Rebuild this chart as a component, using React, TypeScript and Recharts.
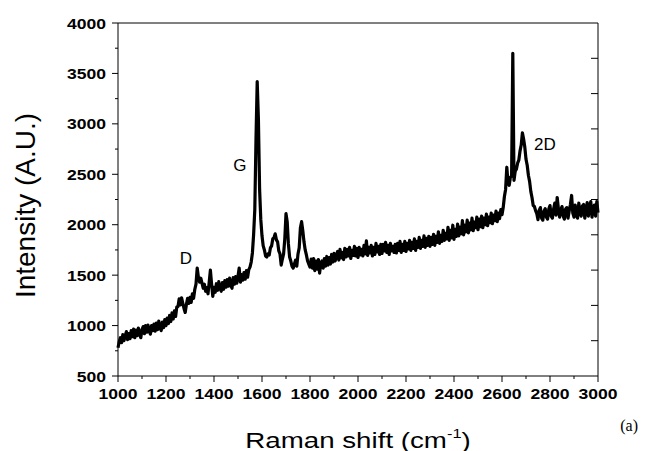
import { LineChart, Line, XAxis, YAxis, ReferenceDot } from 'recharts';

// Raman spectrum sampled every 5 cm-1 from 1000 to 3000, intensity in a.u.
// each row holds 50 cm-1 of readings
const intensity = [
  780, 840, 880, 830, 910, 850, 900, 940, 860, 920, // 1000
  870, 950, 890, 965, 880, 955, 900, 975, 915, 880, // 1050
  960, 990, 920, 1000, 935, 1005, 945, 915, 1000, 950, // 1100
  1015, 945, 1025, 960, 1045, 975, 950, 1035, 980, 1060, // 1150
  1000, 1075, 1020, 1100, 1040, 1125, 1065, 1145, 1090, 1185, // 1200
  1190, 1265, 1205, 1275, 1220, 1170, 1130, 1210, 1270, 1220, // 1250
  1280, 1230, 1315, 1270, 1360, 1410, 1570, 1480, 1430, 1470, // 1300
  1420, 1370, 1410, 1340, 1375, 1315, 1430, 1550, 1410, 1290, // 1350
  1380, 1330, 1415, 1350, 1435, 1370, 1340, 1425, 1360, 1445, // 1400
  1380, 1455, 1390, 1470, 1400, 1370, 1475, 1410, 1485, 1420, // 1450
  1490, 1570, 1430, 1505, 1450, 1525, 1460, 1545, 1480, 1555, // 1500
  1580, 1630, 1720, 1900, 2150, 2850, 3420, 3050, 2350, 2050, // 1550
  1890, 1790, 1750, 1690, 1680, 1710, 1700, 1770, 1790, 1860, // 1600
  1870, 1910, 1850, 1830, 1740, 1710, 1600, 1660, 1710, 1860, // 1650
  2110, 2030, 1810, 1680, 1640, 1590, 1570, 1610, 1650, 1590, // 1700
  1710, 1770, 1970, 2030, 1940, 1830, 1750, 1700, 1640, 1610, // 1750
  1580, 1660, 1570, 1665, 1545, 1640, 1560, 1655, 1520, 1615, // 1800
  1640, 1570, 1665, 1590, 1685, 1600, 1675, 1610, 1705, 1630, // 1850
  1715, 1640, 1700, 1735, 1650, 1755, 1670, 1725, 1655, 1765, // 1900
  1680, 1755, 1690, 1775, 1665, 1745, 1695, 1785, 1690, 1765, // 1950
  1675, 1775, 1700, 1755, 1690, 1795, 1710, 1840, 1695, 1775, // 2000
  1720, 1795, 1690, 1775, 1705, 1815, 1730, 1785, 1705, 1805, // 2050
  1715, 1805, 1740, 1825, 1725, 1795, 1705, 1815, 1740, 1785, // 2100
  1725, 1805, 1720, 1815, 1745, 1835, 1725, 1805, 1745, 1835, // 2150
  1735, 1815, 1760, 1845, 1745, 1825, 1765, 1860, 1745, 1835, // 2200
  1775, 1875, 1765, 1845, 1785, 1890, 1775, 1865, 1795, 1885, // 2250
  1785, 1875, 1805, 1905, 1795, 1885, 1825, 1930, 1815, 1895, // 2300
  1835, 1945, 1845, 1915, 1860, 1975, 1845, 1945, 1870, 1995, // 2350
  1855, 1955, 1885, 2005, 1890, 1975, 1910, 2040, 1900, 1995, // 2400
  1930, 2045, 1920, 2015, 1950, 2065, 1940, 2025, 1970, 2075, // 2450
  1950, 2055, 1980, 2085, 1970, 2065, 2000, 2105, 1990, 2075, // 2500
  2020, 2115, 2010, 2095, 2040, 2135, 2030, 2115, 2060, 2150, // 2550
  2100, 2170, 2280, 2350, 2570, 2420, 2390, 2470, 2480, 3700, // 2600
  2440, 2530, 2550, 2610, 2640, 2730, 2790, 2910, 2850, 2770, // 2650
  2650, 2590, 2490, 2430, 2330, 2270, 2190, 2180, 2140, 2110, // 2700
  2050, 2145, 2170, 2065, 2045, 2135, 2160, 2075, 2055, 2155, // 2750
  2190, 2085, 2065, 2155, 2215, 2095, 2270, 2160, 2075, 2145, // 2800
  2180, 2085, 2055, 2155, 2170, 2065, 2135, 2200, 2290, 2115, // 2850
  2075, 2195, 2095, 2065, 2215, 2125, 2085, 2185, 2200, 2065, // 2900
  2145, 2220, 2085, 2175, 2230, 2075, 2155, 2195, 2085, 2230, // 2950
  2120, // 3000
];

const shiftStart = 1000;
const shiftStep = 5;
const ramanShift = intensity.map((_, i) => shiftStart + shiftStep * i);

const xTicks = [1000, 1100, 1200, 1300, 1400, 1500, 1600, 1700, 1800, 1900, 2000,
  2100, 2200, 2300, 2400, 2500, 2600, 2700, 2800, 2900, 3000];
const topTicks = [1000, 1200, 1400, 1600, 1800, 2000, 2200, 2400, 2600, 2800, 3000];
const yTicks = [500, 750, 1000, 1250, 1500, 1750, 2000, 2250, 2500, 2750, 3000,
  3250, 3500, 3750, 4000];
const rightTicks = [1, 2, 3, 4, 5, 6, 7, 8, 9];

const peakNames = ['D', 'G', '2D'];
const peakLabelX = [1283, 1508, 2779];
const peakLabelY = [1680, 2600, 2810];

const data = ramanShift.map((x, i) => ({ x, y: intensity[i] }));

const FONT = '"Liberation Sans", Arial, sans-serif';
// tick numbers and the x title come out a bit wide in this figure
const TICK_STRETCH = 1.17;
const TITLE_STRETCH = 1.26;

function BottomTick(props: any) {
  const { x, y, payload } = props;
  const major = payload.value % 200 === 0;
  return (
    <g>
      <line x1={x} x2={x} y1={y} y2={y + (major ? 6 : 3)} stroke="#000" strokeWidth={1} />
      {major && (
        <text transform={`translate(${x} ${y + 23}) scale(${TICK_STRETCH} 1)`} textAnchor="middle"
          fontFamily={FONT} fontWeight="bold" fontSize={15} fill="#000">
          {payload.value}
        </text>
      )}
    </g>
  );
}

function LeftTick(props: any) {
  const { x, y, payload } = props;
  const major = payload.value % 500 === 0;
  return (
    <g>
      <line x1={x - (major ? 6 : 3)} x2={x} y1={y} y2={y} stroke="#000" strokeWidth={1} />
      {major && (
        <text transform={`translate(${x - 12} ${y + 5.5}) scale(${TICK_STRETCH} 1)`} textAnchor="end"
          fontFamily={FONT} fontWeight="bold" fontSize={15} fill="#000">
          {payload.value}
        </text>
      )}
    </g>
  );
}

function TopTick(props: any) {
  const { x, y } = props;
  return <line x1={x} x2={x} y1={y} y2={y + 5} stroke="#000" strokeWidth={1} />;
}

function RightTick(props: any) {
  const { x, y } = props;
  return <line x1={x - 7} x2={x} y1={y} y2={y} stroke="#000" strokeWidth={1} />;
}

function XTitle(props: any) {
  const { viewBox } = props;
  const cx = viewBox.x + viewBox.width / 2;
  return (
    <g>
      <text transform={`translate(${cx} ${viewBox.y + 72}) scale(${TITLE_STRETCH} 1)`} textAnchor="middle"
        fontFamily={FONT} fontSize={22} fill="#000">
        Raman shift (cm
        <tspan fontSize={13} dy={-10}>-1</tspan>
        <tspan dy={10}>)</tspan>
      </text>
      <text x={638} y={431} textAnchor="end" fontFamily='"Liberation Serif", "Times New Roman", serif' fontSize={16} fill="#000">
        (a)
      </text>
    </g>
  );
}

function YTitle(props: any) {
  const { viewBox } = props;
  const bx = 35;
  const cy = viewBox.y + viewBox.height / 2 + 6;
  return (
    <text x={bx} y={cy} transform={`rotate(-90 ${bx} ${cy})`} textAnchor="middle"
      fontFamily={FONT} fontSize={28} fill="#000">
      Intensity (A.U.)
    </text>
  );
}

function PeakName(props: any) {
  const { viewBox, value } = props;
  return (
    <text x={viewBox.x} y={viewBox.y + 7} textAnchor="middle" fontFamily={FONT} fontSize={17} fill="#000">
      {value}
    </text>
  );
}

export default function App() {
  return (
    <div style={{ position: 'absolute', left: 0, top: 0, background: '#fff' }}>
      <LineChart width={657} height={451} data={data} margin={{ top: 23, right: 59, bottom: 45, left: 58 }}>
        <XAxis
          dataKey="x"
          type="number"
          domain={[1000, 3000]}
          ticks={xTicks}
          interval={0}
          tickSize={0}
          tickMargin={0}
          tick={<BottomTick />}
          height={30}
          axisLine={{ stroke: '#000', strokeWidth: 1 }}
          label={<XTitle />}
        />
        <XAxis
          xAxisId="top"
          orientation="top"
          type="number"
          domain={[1000, 3000]}
          ticks={topTicks}
          interval={0}
          mirror
          tickSize={0}
          tickMargin={0}
          tick={<TopTick />}
          axisLine={{ stroke: '#000', strokeWidth: 1 }}
        />
        <YAxis
          type="number"
          domain={[500, 4000]}
          ticks={yTicks}
          interval={0}
          width={60}
          tickSize={0}
          tickMargin={0}
          tick={<LeftTick />}
          axisLine={{ stroke: '#000', strokeWidth: 1 }}
          label={<YTitle />}
        />
        <YAxis
          yAxisId="right"
          orientation="right"
          type="number"
          domain={[0, 10]}
          ticks={rightTicks}
          interval={0}
          mirror
          allowDataOverflow
          tickSize={0}
          tickMargin={0}
          tick={<RightTick />}
          axisLine={{ stroke: '#000', strokeWidth: 1 }}
        />
        <Line
          type="linear"
          dataKey="y"
          stroke="#000"
          strokeWidth={3.2}
          strokeLinejoin="round"
          dot={false}
          isAnimationActive={false}
        />
        {peakNames.map((name, i) => (
          <ReferenceDot
            key={name}
            x={peakLabelX[i]}
            y={peakLabelY[i]}
            r={0}
            stroke="none"
            fill="none"
            label={<PeakName value={name} />}
          />
        ))}
      </LineChart>
    </div>
  );
}
